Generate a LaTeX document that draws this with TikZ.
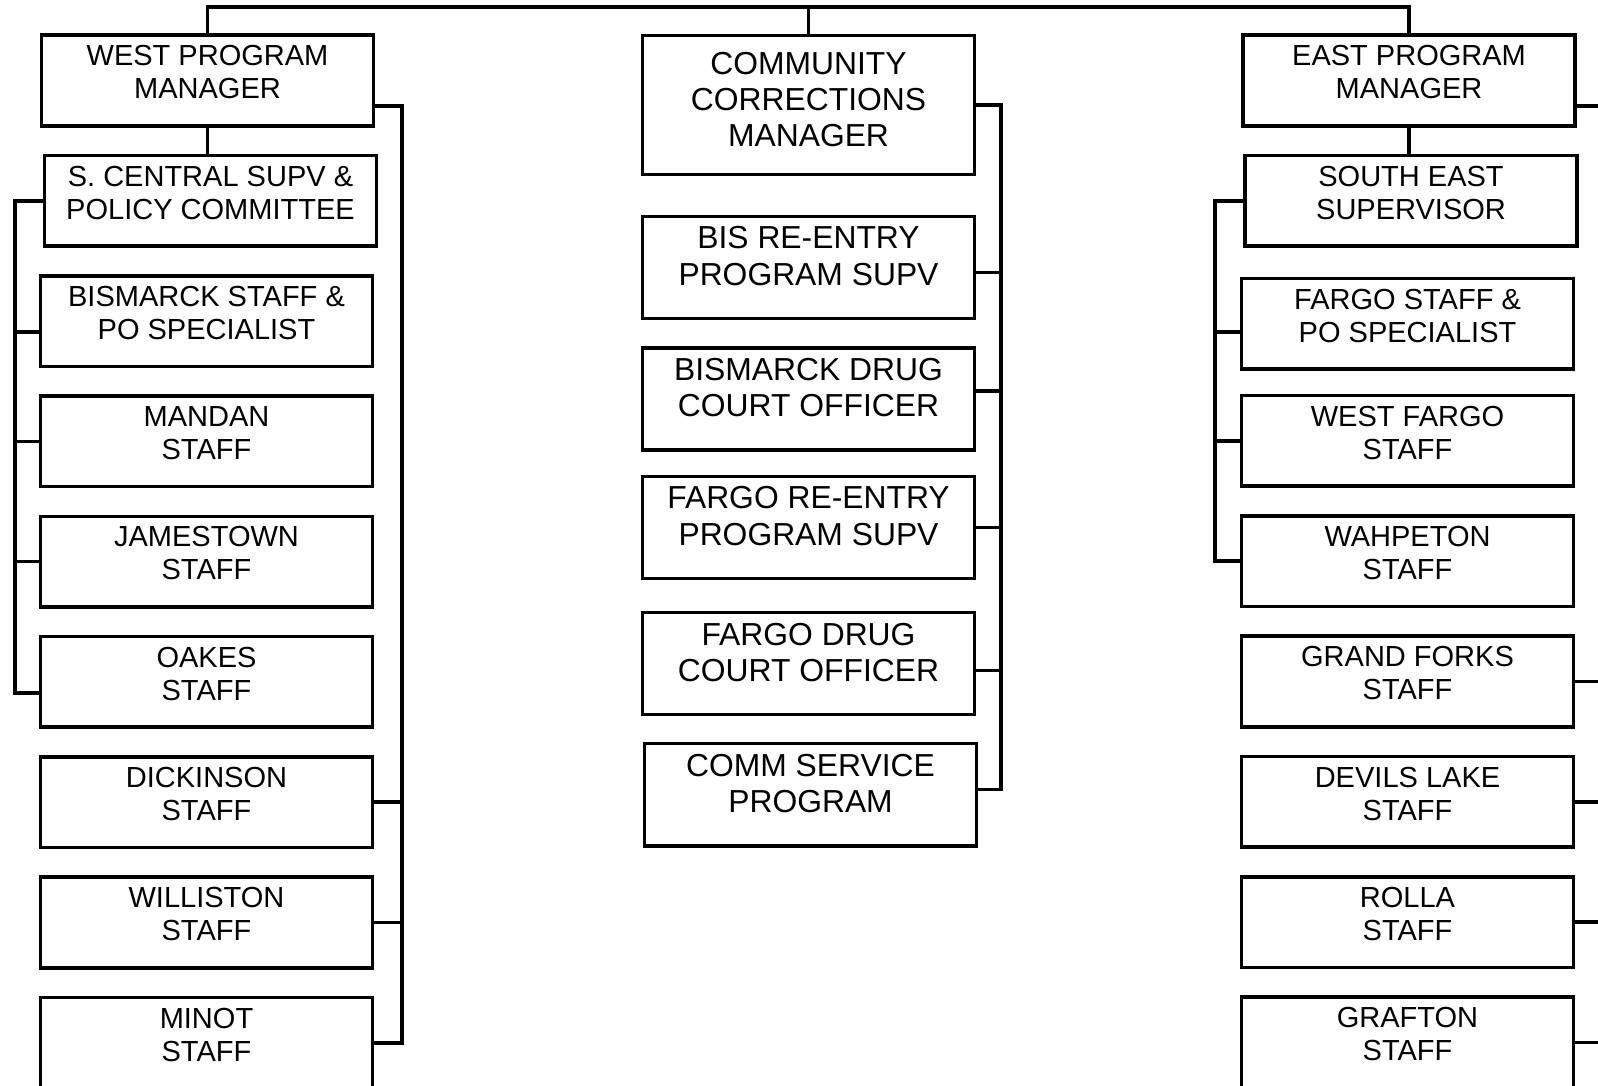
\documentclass[tikz,border=0pt]{standalone}
\usepackage{fontspec}
\setmainfont{Liberation Sans}
\usetikzlibrary{positioning}

\newcommand\sidefont{\fontsize{8.25pt}{9.4pt}\selectfont}
\newcommand\midfont{\fontsize{9.05pt}{10.33pt}\selectfont}

\begin{document}
\begin{tikzpicture}[
    x=0.01cm, y=-0.01cm,
    node distance=0.262cm,
    link/.style={line width=1pt},
    unit/.style={draw, line width=1pt, inner sep=0pt, execute at end node={\end{minipage}}},
    sidebox/.style={unit, execute at begin node={\begin{minipage}[c][0.905cm][t]{3.32cm}\sidefont\centering\vspace*{2.1pt}\strut}},
    centrebox/.style 2 args={unit, execute at begin node={\begin{minipage}[c][#1][t]{3.32cm}\midfont\centering\vspace*{#2}\strut}},
]
\useasboundingbox (0,0) rectangle (1598,1086);

% === WEST ===
\node[sidebox] (wpm) at (207.5,80.5) {WEST PROGRAM\\MANAGER};
\node[sidebox, below=of wpm, xshift=0.03cm] (scs) {S. CENTRAL SUPV \&\\POLICY COMMITTEE};
\node[sidebox, below=of scs, xshift=-0.04cm] (bis) {BISMARCK STAFF \&\\PO SPECIALIST};
\node[sidebox, below=of bis] (man) {MANDAN\\STAFF};
\node[sidebox, below=of man] (jam) {JAMESTOWN\\STAFF};
\node[sidebox, below=of jam] (oak) {OAKES\\STAFF};
\node[sidebox, below=of oak] (dic) {DICKINSON\\STAFF};
\node[sidebox, below=of dic] (wil) {WILLISTON\\STAFF};
\node[sidebox, below=of wil] (min) {MINOT\\STAFF};

% === CENTRE ===
\node[centrebox={1.385cm}{3.7pt}] (ccm) at (808.5,105) {COMMUNITY\\CORRECTIONS\\MANAGER};
\node[centrebox={1.02cm}{2pt}, below=0.385cm of ccm] (bisre) {BIS RE-ENTRY\\PROGRAM SUPV};
\node[centrebox={1.02cm}{2pt}, below=0.26cm of bisre] (bdc) {BISMARCK DRUG\\COURT OFFICER};
\node[centrebox={1.02cm}{2pt}, below=0.23cm of bdc] (fre) {FARGO RE-ENTRY\\PROGRAM SUPV};
\node[centrebox={1.02cm}{2pt}, below=0.305cm of fre] (fdc) {FARGO DRUG\\COURT OFFICER};
\node[centrebox={1.02cm}{2pt}, below=0.255cm of fdc, xshift=0.02cm] (csp) {COMM SERVICE\\PROGRAM};

% === EAST ===
\node[sidebox] (epm) at (1409,80.5) {EAST PROGRAM\\MANAGER};
\node[sidebox, below=of epm, xshift=0.02cm] (sesup) {SOUTH EAST\\SUPERVISOR};
\node[sidebox, below=0.29cm of sesup, xshift=-0.035cm] (fargo) {FARGO STAFF \&\\PO SPECIALIST};
\node[sidebox, below=0.23cm of fargo] (wf) {WEST FARGO\\STAFF};
\node[sidebox, below=of wf] (wah) {WAHPETON\\STAFF};
\node[sidebox, below=of wah] (gf) {GRAND FORKS\\STAFF};
\node[sidebox, below=of gf] (dl) {DEVILS LAKE\\STAFF};
\node[sidebox, below=of dl] (rolla) {ROLLA\\STAFF};
\node[sidebox, below=of rolla] (grafton) {GRAFTON\\STAFF};

% === top bar ===
\coordinate (bar) at (808,7);
\draw[link] (wpm.north) |- (bar) -| (epm.north);
\draw[link] (ccm.north) -- (ccm.north |- bar);
\draw[link] (wpm.south) -- (wpm.south |- scs.north);
\draw[link] (epm.south) -- (epm.south |- sesup.north);

% === west buses ===
\coordinate (wl) at (15,0);
\coordinate (wr) at (402,0);
\coordinate (bisin) at ([yshift=-0.11cm]bis.west);
\coordinate (oakin) at ([yshift=-0.11cm]oak.west);
\draw[link] (scs.west) -| (wl |- oakin) -- (oakin);
\foreach \p in {bisin, man.west, jam.west}
    \draw[link] (\p) -- (\p -| wl);
\coordinate (wpmout) at ([yshift=-0.255cm]wpm.east);
\draw[link] (wpmout) -| (wr |- min.east) -- (min.east);
\foreach \n in {dic, wil}
    \draw[link] (\n.east) -- (\n.east -| wr);

% === centre bus ===
\coordinate (cr) at (1001,0);
\coordinate (bisreout) at ([yshift=-0.05cm]bisre.east);
\coordinate (bdcout) at ([yshift=0.08cm]bdc.east);
\coordinate (fdcout) at ([yshift=-0.07cm]fdc.east);
\coordinate (cspout) at ([yshift=0.05cm]csp.east);
\draw[link] (ccm.east) -| (cr |- cspout) -- (cspout);
\foreach \p in {bisreout, bdcout, fre.east, fdcout}
    \draw[link] (\p) -- (\p -| cr);

% === east buses ===
\coordinate (el) at (1215,0);
\coordinate (er) at (1640,0);
\coordinate (fargoin) at ([yshift=-0.08cm]fargo.west);
\draw[link] (sesup.west) -| (el |- wah.west) -- (wah.west);
\foreach \p in {fargoin, wf.west}
    \draw[link] (\p) -- (\p -| el);
\coordinate (epmout) at ([yshift=-0.255cm]epm.east);
\draw[link] (epmout) -| (er |- grafton.east) -- (grafton.east);
\foreach \n in {gf, dl, rolla}
    \draw[link] (\n.east) -- (\n.east -| er);

\end{tikzpicture}
\end{document}
